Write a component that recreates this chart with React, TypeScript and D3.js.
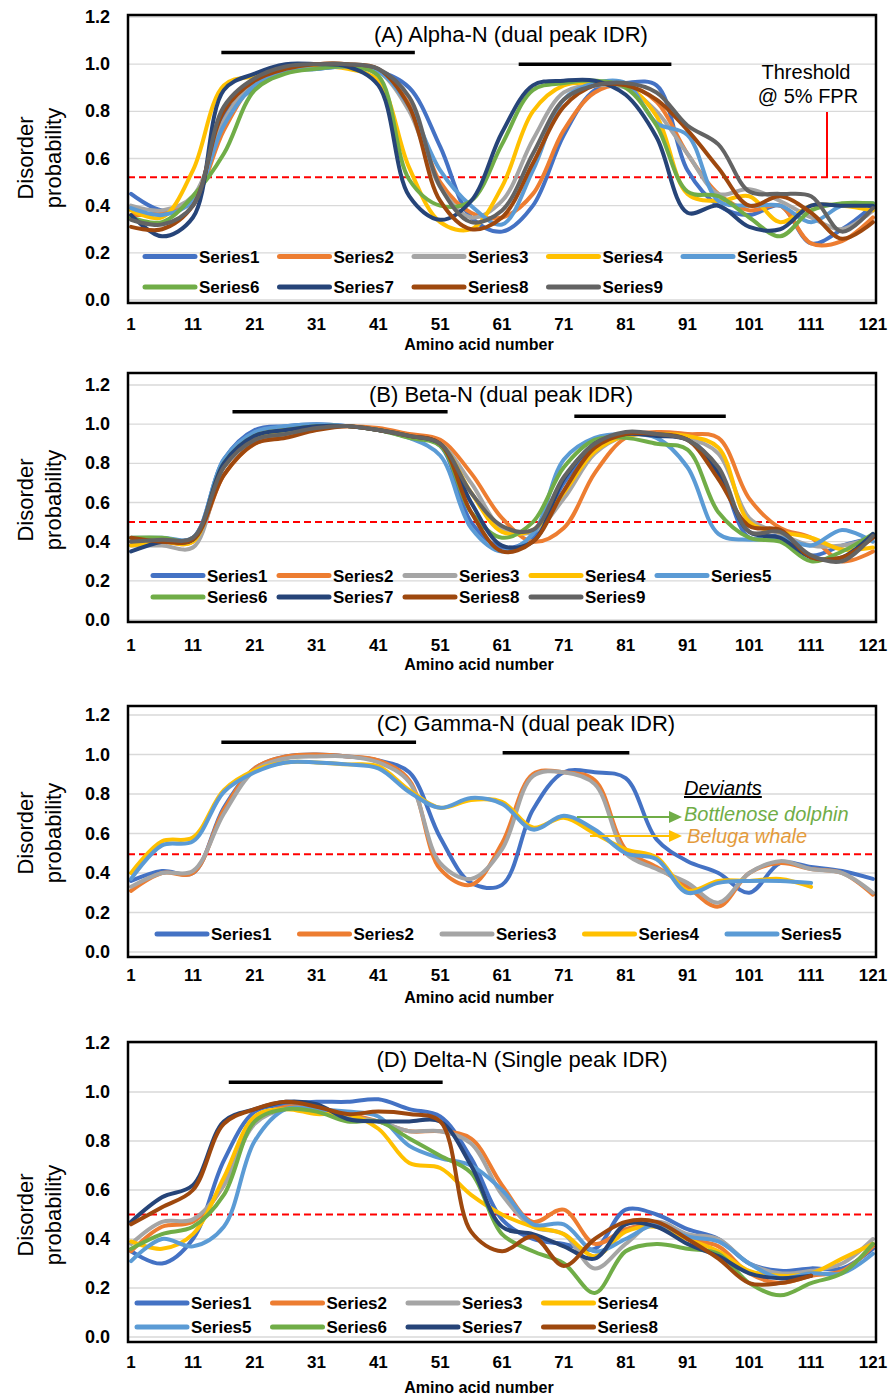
import React from 'react';
import * as d3 from 'd3';

// residue positions sampled along each profile
const residues = [1, 6, 11, 16, 21, 26, 31, 36, 41, 46, 51, 56, 61, 66, 71, 76, 81, 86, 91, 96, 101, 106, 111, 116, 121];
const xTickLabels = [1, 11, 21, 31, 41, 51, 61, 71, 81, 91, 101, 111, 121];
const yTickValues = [0, 0.2, 0.4, 0.6, 0.8, 1.0, 1.2];
const seriesNames = ['Series1', 'Series2', 'Series3', 'Series4', 'Series5', 'Series6', 'Series7', 'Series8', 'Series9'];
const seriesColors = ['#4472C4', '#ED7D31', '#A5A5A5', '#FFC000', '#5B9BD5', '#70AD47', '#264478', '#9E480E', '#636363'];

// (A) Alpha-N
const alpha1 = [0.45, 0.38, 0.42, 0.78, 0.90, 0.97, 0.98, 0.99, 0.97, 0.90, 0.65, 0.35, 0.29, 0.40, 0.70, 0.89, 0.92, 0.91, 0.55, 0.40, 0.36, 0.40, 0.24, 0.30, 0.40];
const alpha2 = [0.36, 0.37, 0.42, 0.72, 0.92, 0.98, 1.0, 1.0, 0.97, 0.83, 0.50, 0.37, 0.35, 0.45, 0.72, 0.88, 0.91, 0.84, 0.62, 0.45, 0.38, 0.40, 0.24, 0.25, 0.35];
const alpha3 = [0.40, 0.38, 0.44, 0.76, 0.93, 0.98, 1.0, 1.0, 0.97, 0.80, 0.48, 0.35, 0.42, 0.68, 0.88, 0.91, 0.90, 0.80, 0.62, 0.45, 0.47, 0.42, 0.35, 0.30, 0.38];
const alpha4 = [0.38, 0.35, 0.55, 0.91, 0.95, 0.98, 0.99, 0.98, 0.93, 0.56, 0.33, 0.30, 0.48, 0.80, 0.91, 0.92, 0.91, 0.78, 0.45, 0.42, 0.44, 0.33, 0.40, 0.40, 0.38];
const alpha5 = [0.39, 0.36, 0.42, 0.74, 0.91, 0.97, 0.98, 0.99, 0.97, 0.82, 0.55, 0.40, 0.32, 0.55, 0.85, 0.92, 0.92, 0.75, 0.70, 0.42, 0.40, 0.40, 0.33, 0.40, 0.41];
const alpha6 = [0.35, 0.33, 0.44, 0.62, 0.89, 0.96, 0.98, 0.99, 0.95, 0.51, 0.40, 0.42, 0.66, 0.89, 0.92, 0.93, 0.90, 0.74, 0.46, 0.44, 0.35, 0.27, 0.38, 0.41, 0.41];
const alpha7 = [0.36, 0.27, 0.35, 0.89, 0.96, 1.0, 1.0, 0.99, 0.91, 0.44, 0.34, 0.42, 0.71, 0.91, 0.93, 0.93, 0.87, 0.69, 0.37, 0.40, 0.31, 0.30, 0.40, 0.40, 0.40];
const alpha8 = [0.31, 0.30, 0.40, 0.80, 0.93, 0.98, 1.0, 1.0, 0.98, 0.82, 0.42, 0.30, 0.35, 0.58, 0.82, 0.91, 0.91, 0.85, 0.72, 0.56, 0.40, 0.44, 0.37, 0.26, 0.33];
const alpha9 = [0.34, 0.32, 0.40, 0.82, 0.94, 0.99, 1.0, 1.0, 0.98, 0.86, 0.48, 0.33, 0.38, 0.62, 0.85, 0.91, 0.92, 0.88, 0.74, 0.66, 0.46, 0.45, 0.44, 0.29, 0.39];

// (B) Beta-N
const beta1 = [0.40, 0.41, 0.42, 0.82, 0.97, 0.99, 1.0, 0.99, 0.97, 0.94, 0.89, 0.50, 0.37, 0.42, 0.70, 0.89, 0.95, 0.95, 0.93, 0.76, 0.42, 0.43, 0.33, 0.38, 0.42];
const beta2 = [0.40, 0.40, 0.40, 0.74, 0.90, 0.94, 0.98, 0.99, 0.98, 0.95, 0.92, 0.75, 0.52, 0.40, 0.47, 0.75, 0.93, 0.96, 0.95, 0.93, 0.62, 0.47, 0.42, 0.30, 0.35];
const beta3 = [0.38, 0.38, 0.37, 0.78, 0.93, 0.97, 0.99, 0.99, 0.97, 0.94, 0.90, 0.70, 0.47, 0.45, 0.62, 0.85, 0.94, 0.95, 0.93, 0.85, 0.52, 0.44, 0.38, 0.38, 0.42];
const beta4 = [0.38, 0.40, 0.40, 0.80, 0.93, 0.97, 0.99, 0.99, 0.97, 0.94, 0.90, 0.65, 0.45, 0.46, 0.65, 0.86, 0.94, 0.95, 0.94, 0.88, 0.50, 0.45, 0.42, 0.36, 0.37];
const beta5 = [0.42, 0.42, 0.42, 0.82, 0.96, 0.99, 1.0, 0.99, 0.97, 0.93, 0.84, 0.47, 0.35, 0.44, 0.82, 0.93, 0.95, 0.93, 0.78, 0.44, 0.41, 0.42, 0.38, 0.46, 0.40];
const beta6 = [0.42, 0.42, 0.41, 0.80, 0.94, 0.97, 0.99, 0.99, 0.97, 0.93, 0.89, 0.55, 0.42, 0.50, 0.78, 0.92, 0.93, 0.90, 0.87, 0.55, 0.42, 0.40, 0.30, 0.35, 0.44];
const beta7 = [0.35, 0.40, 0.41, 0.80, 0.94, 0.97, 0.99, 0.99, 0.97, 0.94, 0.90, 0.60, 0.38, 0.40, 0.72, 0.90, 0.95, 0.94, 0.92, 0.75, 0.45, 0.42, 0.32, 0.32, 0.44];
const beta8 = [0.42, 0.40, 0.41, 0.74, 0.90, 0.93, 0.97, 0.99, 0.97, 0.94, 0.90, 0.55, 0.35, 0.40, 0.66, 0.88, 0.95, 0.95, 0.92, 0.72, 0.48, 0.46, 0.32, 0.32, 0.42];
const beta9 = [0.40, 0.41, 0.42, 0.78, 0.92, 0.95, 0.98, 0.99, 0.97, 0.94, 0.90, 0.65, 0.48, 0.46, 0.73, 0.90, 0.96, 0.95, 0.92, 0.78, 0.45, 0.45, 0.33, 0.30, 0.43];

// (C) Gamma-N
const gamma1 = [0.36, 0.41, 0.40, 0.73, 0.93, 0.99, 1.0, 0.99, 0.97, 0.91, 0.58, 0.35, 0.34, 0.72, 0.91, 0.91, 0.88, 0.57, 0.46, 0.40, 0.30, 0.45, 0.43, 0.41, 0.37];
const gamma2 = [0.31, 0.40, 0.40, 0.72, 0.93, 0.99, 1.0, 0.99, 0.97, 0.87, 0.42, 0.34, 0.55, 0.90, 0.91, 0.87, 0.52, 0.43, 0.33, 0.23, 0.40, 0.45, 0.42, 0.40, 0.29];
const gamma3 = [0.33, 0.40, 0.41, 0.70, 0.92, 0.98, 0.99, 0.99, 0.96, 0.86, 0.45, 0.37, 0.52, 0.89, 0.91, 0.85, 0.50, 0.42, 0.35, 0.25, 0.40, 0.46, 0.42, 0.40, 0.30];
const gamma4 = [0.40, 0.56, 0.58, 0.82, 0.92, 0.96, 0.96, 0.95, 0.94, 0.82, 0.73, 0.77, 0.76, 0.63, 0.68, 0.60, 0.52, 0.48, 0.31, 0.36, 0.36, 0.37, 0.33, null, null];
const gamma5 = [0.37, 0.54, 0.56, 0.81, 0.91, 0.96, 0.96, 0.95, 0.93, 0.81, 0.73, 0.78, 0.75, 0.62, 0.69, 0.62, 0.50, 0.47, 0.30, 0.35, 0.36, 0.36, 0.35, null, null];

// (D) Delta-N
const delta1 = [0.35, 0.30, 0.40, 0.72, 0.92, 0.95, 0.96, 0.96, 0.97, 0.93, 0.90, 0.73, 0.48, 0.40, 0.38, 0.36, 0.52, 0.50, 0.44, 0.40, 0.30, 0.27, 0.28, 0.28, 0.36];
const delta2 = [0.35, 0.45, 0.47, 0.62, 0.88, 0.94, 0.93, 0.91, 0.88, 0.84, 0.84, 0.81, 0.62, 0.47, 0.52, 0.38, 0.44, 0.46, 0.40, 0.37, 0.26, 0.22, 0.25, 0.27, 0.37];
const delta3 = [0.38, 0.47, 0.48, 0.62, 0.87, 0.93, 0.92, 0.90, 0.88, 0.84, 0.84, 0.79, 0.58, 0.45, 0.42, 0.28, 0.38, 0.47, 0.42, 0.40, 0.30, 0.26, 0.27, 0.30, 0.40];
const delta4 = [0.39, 0.36, 0.42, 0.65, 0.90, 0.93, 0.91, 0.91, 0.85, 0.71, 0.69, 0.58, 0.50, 0.45, 0.42, 0.33, 0.43, 0.45, 0.40, 0.35, 0.27, 0.25, 0.26, 0.32, 0.38];
const delta5 = [0.31, 0.40, 0.37, 0.45, 0.80, 0.93, 0.93, 0.92, 0.90, 0.78, 0.73, 0.70, 0.60, 0.46, 0.46, 0.35, 0.40, 0.46, 0.41, 0.39, 0.30, 0.24, 0.26, 0.26, 0.34];
const delta6 = [0.36, 0.42, 0.45, 0.58, 0.88, 0.93, 0.92, 0.88, 0.88, 0.81, 0.74, 0.67, 0.42, 0.35, 0.30, 0.18, 0.35, 0.38, 0.36, 0.34, 0.22, 0.17, 0.22, 0.26, 0.38];
const delta7 = [0.47, 0.57, 0.62, 0.88, 0.93, 0.96, 0.95, 0.89, 0.88, 0.88, 0.88, 0.70, 0.45, 0.42, 0.37, 0.32, 0.46, 0.45, 0.38, 0.33, 0.26, 0.24, 0.25, null, null];
const delta8 = [0.46, 0.53, 0.60, 0.87, 0.93, 0.96, 0.94, 0.91, 0.92, 0.91, 0.88, 0.43, 0.35, 0.41, 0.29, 0.40, 0.47, 0.47, 0.40, 0.32, 0.22, 0.22, 0.25, null, null];

// IDR bars [from residue, to residue, level]
const alphaBars = [[15.6, 46.9, 1.05], [63.7, 88.4, 1.0]];
const betaBars = [[17.4, 52.2, 1.064], [72.7, 97.2, 1.04]];
const gammaBars = [[15.6, 47.1, 1.062], [61.1, 81.6, 1.009]];
const deltaBars = [[16.8, 51.4, 1.04]];

const FONT = 'Liberation Sans, Arial, Helvetica, sans-serif';
const LEFT = 128;
const RIGHT = 876;

const panels = [
  {
    title: '(A) Alpha-N (dual peak IDR)', titleX: 511, titleY: 42,
    yTop: 17, yBottom: 300, frame: [15, 303], threshold: 0.52,
    bars: alphaBars, data: [alpha1, alpha2, alpha3, alpha4, alpha5, alpha6, alpha7, alpha8, alpha9],
    legend: { x0: 145, step: 134.5, perRow: 5, rows: [256.5, 287] },
    xLabelY: 330, xTitleY: 350, yTitleY: 158,
  },
  {
    title: '(B) Beta-N (dual peak IDR)', titleX: 501, titleY: 402,
    yTop: 385, yBottom: 620, frame: [373, 622], threshold: 0.5,
    bars: betaBars, data: [beta1, beta2, beta3, beta4, beta5, beta6, beta7, beta8, beta9],
    legend: { x0: 153, step: 126, perRow: 5, rows: [575.5, 597] },
    xLabelY: 651, xTitleY: 670, yTitleY: 500,
  },
  {
    title: '(C) Gamma-N (dual peak IDR)', titleX: 526, titleY: 731,
    yTop: 715, yBottom: 952, frame: [706, 957], threshold: 0.495,
    bars: gammaBars, data: [gamma1, gamma2, gamma3, gamma4, gamma5],
    legend: { x0: 157, step: 142.5, perRow: 5, rows: [934] },
    xLabelY: 981, xTitleY: 1003, yTitleY: 833,
  },
  {
    title: '(D) Delta-N (Single peak IDR)', titleX: 522, titleY: 1067,
    yTop: 1043, yBottom: 1337, frame: [1042, 1342], threshold: 0.5,
    bars: deltaBars, data: [delta1, delta2, delta3, delta4, delta5, delta6, delta7, delta8],
    legend: { x0: 137, step: 135.5, perRow: 4, rows: [1303, 1327] },
    xLabelY: 1368, xTitleY: 1393, yTitleY: 1215,
  },
];

const x = d3.scaleLinear().domain([0.5, 121.5]).range([LEFT, RIGHT]);

function Panel({ p }) {
  const y = d3.scaleLinear().domain([0, 1.2]).range([p.yBottom, p.yTop]);
  const line = d3.line()
    .defined(d => d[1] != null)
    .x(d => x(d[0]))
    .y(d => y(d[1]))
    .curve(d3.curveCatmullRom);

  return (
    <g>
      {yTickValues.map(t => (
        <line key={'g' + t} x1={LEFT} x2={RIGHT} y1={y(t)} y2={y(t)} stroke="#D9D9D9" strokeWidth={1.3} />
      ))}
      {yTickValues.map(t => (
        <text key={'yt' + t} x={110} y={y(t) + 6} textAnchor="end" fontFamily={FONT} fontWeight="bold" fontSize={18}>
          {t.toFixed(1)}
        </text>
      ))}
      {xTickLabels.map(t => (
        <text key={'xt' + t} x={x(t)} y={p.xLabelY} textAnchor="middle" fontFamily={FONT} fontWeight="bold" fontSize={17}>
          {t}
        </text>
      ))}
      <text x={479} y={p.xTitleY} textAnchor="middle" fontFamily={FONT} fontWeight="bold" fontSize={16}>
        Amino acid number
      </text>
      <text transform={`translate(33,${p.yTitleY}) rotate(-90)`} textAnchor="middle" fontFamily={FONT} fontSize={22}>
        Disorder
      </text>
      <text transform={`translate(61,${p.yTitleY}) rotate(-90)`} textAnchor="middle" fontFamily={FONT} fontSize={22}>
        probability
      </text>

      <line x1={LEFT} x2={RIGHT} y1={y(p.threshold)} y2={y(p.threshold)} stroke="#FF0000" strokeWidth={2} strokeDasharray="7,4" />

      {p.data.map((vals, i) => (
        <path key={'s' + i} d={line(residues.map((r, j) => [r, vals[j]]))} fill="none"
          stroke={seriesColors[i]} strokeWidth={4} strokeLinejoin="round" strokeLinecap="round" />
      ))}

      {p.bars.map((b, i) => (
        <line key={'b' + i} x1={x(b[0])} x2={x(b[1])} y1={y(b[2])} y2={y(b[2])} stroke="#000" strokeWidth={3.5} />
      ))}

      <text x={p.titleX} y={p.titleY} textAnchor="middle" fontFamily={FONT} fontSize={22}>{p.title}</text>

      {p.data.map((_, i) => {
        const row = Math.floor(i / p.legend.perRow);
        const col = i % p.legend.perRow;
        const lx = p.legend.x0 + col * p.legend.step;
        const ly = p.legend.rows[row];
        return (
          <g key={'l' + i}>
            <line x1={lx} x2={lx + 50} y1={ly} y2={ly} stroke={seriesColors[i]} strokeWidth={5} strokeLinecap="round" />
            <text x={lx + 54} y={ly + 6} fontFamily={FONT} fontWeight="bold" fontSize={17}>{seriesNames[i]}</text>
          </g>
        );
      })}

      <rect x={LEFT} y={p.frame[0]} width={RIGHT - LEFT} height={p.frame[1] - p.frame[0]} fill="none" stroke="#000" strokeWidth={2.5} />
    </g>
  );
}

export default function App() {
  const pA = panels[0];
  const yA = d3.scaleLinear().domain([0, 1.2]).range([pA.yBottom, pA.yTop]);
  return (
    <svg width={889} height={1398} style={{ position: 'absolute', left: 0, top: 0, background: '#fff' }}>
      <rect width={889} height={1398} fill="#fff" />
      {panels.map((p, i) => <Panel key={i} p={p} />)}

      {/* threshold callout */}
      <text x={806} y={79} textAnchor="middle" fontFamily={FONT} fontSize={20}>Threshold</text>
      <text x={808} y={103} textAnchor="middle" fontFamily={FONT} fontSize={20}>@ 5% FPR</text>
      <line x1={827} x2={827} y1={112} y2={yA(pA.threshold)} stroke="#FF0000" strokeWidth={2} />

      {/* deviants callout */}
      <text x={684} y={795} fontFamily={FONT} fontSize={20} fontStyle="italic" textDecoration="underline">Deviants</text>
      <text x={684} y={821} fontFamily={FONT} fontSize={20} fontStyle="italic" fill="#70AD47">Bottlenose dolphin</text>
      <text x={687} y={843} fontFamily={FONT} fontSize={20} fontStyle="italic" fill="#E49B3C">Beluga whale</text>
      <line x1={577} x2={670} y1={817} y2={817} stroke="#70AD47" strokeWidth={2} />
      <polygon points="669,811 682,817 669,823" fill="#70AD47" />
      <line x1={590} x2={670} y1={836} y2={836} stroke="#FFC000" strokeWidth={2} />
      <polygon points="669,830 682,836 669,842" fill="#FFC000" />
    </svg>
  );
}
